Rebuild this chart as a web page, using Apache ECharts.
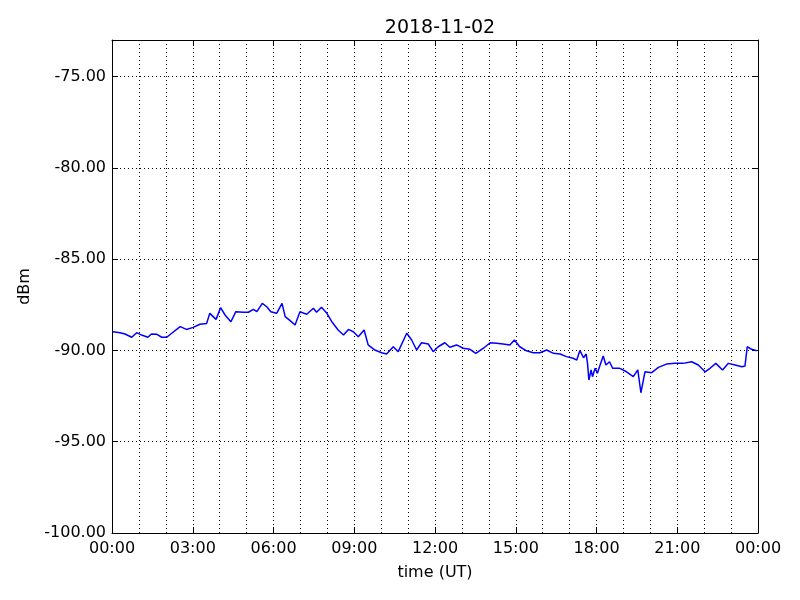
<!DOCTYPE html>
<html>
<head>
<meta charset="utf-8">
<script src="https://cdn.jsdelivr.net/npm/echarts@6/dist/echarts.min.js"></script>
<style>html,body{margin:0;padding:0;background:#fff}#c{width:800px;height:600px}</style>
</head>
<body>
<div id="c"></div>
<script>
const times = ["00:02","00:18","00:29","00:44","00:55","01:06","01:20","01:28","01:40","01:51","02:02","02:13","02:32","02:46","03:01","03:16","03:31","03:38","03:52","04:02","04:12","04:25","04:36","04:53","05:04","05:15","05:23","05:35","05:45","05:54","06:07","06:19","06:26","06:37","06:48","06:59","07:14","07:29","07:36","07:47","07:59","08:10","08:24","08:36","08:47","08:58","09:09","09:22","09:31","09:46","10:01","10:12","10:27","10:38","10:57","11:08","11:19","11:30","11:45","11:56","12:07","12:22","12:33","12:48","13:03","13:18","13:31","13:48","14:03","14:17","14:32","14:47","14:57","15:09","15:24","15:39","15:54","16:09","16:24","16:39","16:53","17:08","17:16","17:23","17:31","17:37","17:40","17:43","17:48","17:51","17:57","18:02","18:08","18:15","18:21","18:29","18:36","18:52","19:07","19:22","19:32","19:39","19:48","20:03","20:18","20:36","20:55","21:13","21:32","21:47","22:02","22:13","22:26","22:41","22:54","23:09","23:24","23:31","23:36","23:46","23:57"];
const dbm = [-88.98,-89.03,-89.10,-89.28,-89.03,-89.16,-89.28,-89.10,-89.12,-89.28,-89.28,-89.06,-88.70,-88.85,-88.74,-88.57,-88.52,-87.97,-88.30,-87.66,-88.06,-88.43,-87.88,-87.91,-87.91,-87.75,-87.88,-87.42,-87.61,-87.88,-87.97,-87.42,-88.15,-88.37,-88.61,-87.88,-88.02,-87.69,-87.91,-87.64,-87.97,-88.43,-88.88,-89.16,-88.85,-88.98,-89.25,-88.88,-89.70,-89.98,-90.13,-90.20,-89.80,-90.07,-89.06,-89.43,-89.98,-89.58,-89.65,-90.07,-89.80,-89.58,-89.83,-89.70,-89.88,-89.94,-90.16,-89.88,-89.58,-89.61,-89.65,-89.70,-89.43,-89.80,-90.02,-90.13,-90.13,-89.98,-90.16,-90.20,-90.34,-90.43,-90.53,-90.00,-90.40,-90.20,-90.71,-91.62,-91.07,-91.44,-90.98,-91.25,-90.80,-90.31,-90.80,-90.62,-90.98,-90.98,-91.17,-91.44,-91.07,-92.32,-91.17,-91.22,-90.93,-90.75,-90.71,-90.71,-90.62,-90.80,-91.17,-90.98,-90.71,-91.07,-90.71,-90.80,-90.89,-90.85,-89.80,-89.94,-90.02];
const xTickHours = [0,3,6,9,12,15,18,21,24];
const yTicks = [-100,-95,-90,-85,-80,-75];

function toHours(s){const p=s.split(':');return (+p[0])+(+p[1])/60;}
const seriesData = times.map((t,i)=>[toHours(t), dbm[i]]);
function pad(n){return (n<10?'0':'')+n;}

const FONT = 'DejaVu Sans';
const dotted = {color:'#000', width:1, type:[1,3]};
const baseX = {type:'value', min:0, max:24, interval:3, gridIndex:0};
const baseY = {type:'value', min:-100, max:-73, interval:5, gridIndex:0};

const chart = echarts.init(document.getElementById('c'), null, {renderer:'canvas'});
chart.setOption({
  animation:false,
  backgroundColor:'#fff',
  title:{text:'2018-11-02', left:435, top:14, textAlign:'center',
    textStyle:{fontFamily:FONT, fontSize:19, fontWeight:'normal', color:'#000'}},
  grid:{left:112, right:42, top:40, bottom:67, containLabel:false, show:false},
  xAxis:[
    Object.assign({}, baseX, {position:'bottom', name:'time (UT)', nameLocation:'middle', nameGap:32,
      nameTextStyle:{fontFamily:FONT, fontSize:16, color:'#000'},
      axisLine:{show:true, onZero:false, lineStyle:{color:'#000', width:1}},
      axisTick:{show:true, inside:true, length:6, lineStyle:{color:'#000'}},
      axisLabel:{show:true, margin:8, fontFamily:FONT, fontSize:16, color:'#000',
        formatter:v=> xTickHours.indexOf(v)>=0 ? pad(v%24)+':00' : ''},
      splitLine:{show:true, lineStyle:dotted},
      minorTick:{show:false, splitNumber:3},
      minorSplitLine:{show:true, lineStyle:dotted}}),
    Object.assign({}, baseX, {position:'top',
      axisLine:{show:true, onZero:false, lineStyle:{color:'#000', width:1}},
      axisTick:{show:true, inside:true, length:6, lineStyle:{color:'#000'}},
      axisLabel:{show:false}, splitLine:{show:false}})
  ],
  yAxis:[
    Object.assign({}, baseY, {position:'left', name:'dBm', nameLocation:'middle', nameGap:78,
      nameTextStyle:{fontFamily:FONT, fontSize:16, color:'#000'},
      axisLine:{show:true, onZero:false, lineStyle:{color:'#000', width:1}},
      axisTick:{show:true, inside:true, length:6, lineStyle:{color:'#000'}},
      axisLabel:{show:true, margin:6, fontFamily:FONT, fontSize:16, color:'#000', showMaxLabel:false,
        formatter:v=> yTicks.indexOf(v)>=0 ? v.toFixed(2) : ''},
      splitLine:{show:true, lineStyle:dotted}}),
    Object.assign({}, baseY, {position:'right',
      axisLine:{show:true, onZero:false, lineStyle:{color:'#000', width:1}},
      axisTick:{show:true, inside:true, length:6, lineStyle:{color:'#000'}},
      axisLabel:{show:false}, splitLine:{show:false}})
  ],
  series:[{
    type:'line', xAxisIndex:0, yAxisIndex:0, data:seriesData,
    showSymbol:false, symbol:'none', smooth:false,
    lineStyle:{color:'#0000ff', width:1.5}
  }]
});
</script>
</body>
</html>
